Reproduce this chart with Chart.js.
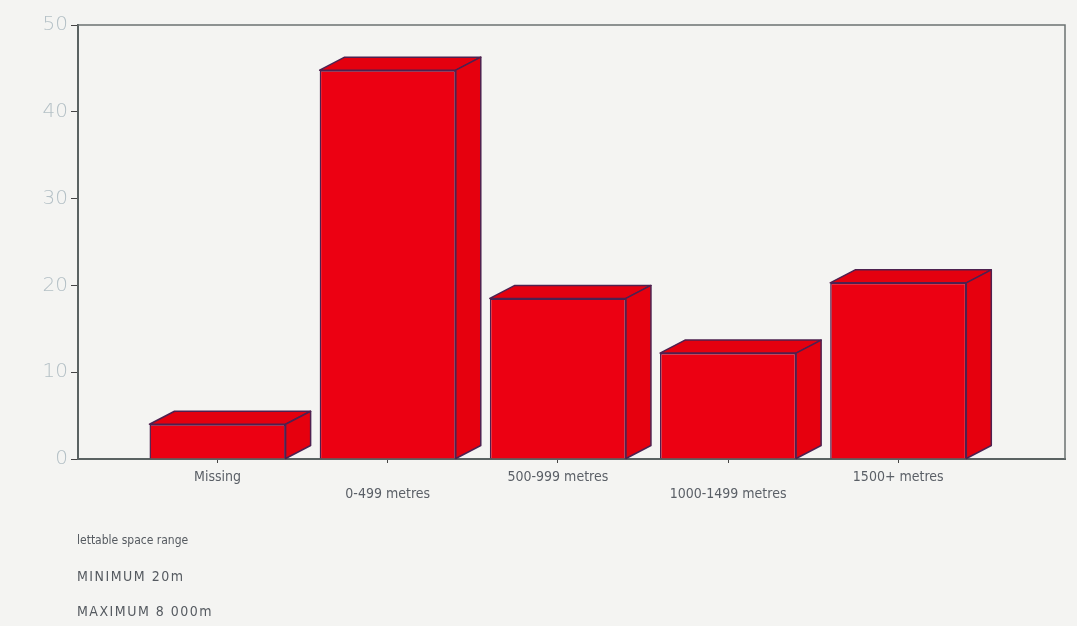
<!DOCTYPE html>
<html>
<head>
<meta charset="utf-8">
<script src="https://cdn.jsdelivr.net/npm/chart.js@4.4.0/dist/chart.umd.min.js"></script>
<style>
  html, body { margin: 0; padding: 0; background: #f4f4f2; }
  #wrap { position: relative; width: 1077px; height: 626px; }
  .note { position: absolute; left: 77px; color: #555a60; font-family: "Liberation Sans Narrow", "DejaVu Sans Condensed", Arial, sans-serif; }
</style>
</head>
<body>
<div id="wrap">
  <canvas id="bars" width="1077" height="626"></canvas>
  <div class="note" style="top:533px; font-size:12px;">lettable space range</div>
  <div class="note" style="top:568px; font-size:14px; letter-spacing:1.5px;">MINIMUM 20m</div>
  <div class="note" style="top:603px; font-size:14px; letter-spacing:1.5px;">MAXIMUM 8 000m</div>
</div>
<script>
const categories = ["Missing", "0-499 metres", "500-999 metres", "1000-1499 metres", "1500+ metres"];
const counts = [4, 44.8, 18.5, 12.2, 20.3];
const yTicks = [0, 10, 20, 30, 40, 50];

// depth of the fake 3d box
const DX = 25, DY = -13;

const box3d = {
  id: "box3d",
  afterDatasetsDraw(chart) {
    const ctx = chart.ctx;
    chart.getDatasetMeta(0).data.forEach((bar) => {
      const w = bar.width;
      const l = bar.x - w / 2, r = bar.x + w / 2, t = bar.y, b = bar.base;
      ctx.save();
      ctx.lineWidth = 1.5;
      ctx.strokeStyle = "#4e2150";
      ctx.lineJoin = "round";
      // top face
      ctx.beginPath();
      ctx.moveTo(l, t);
      ctx.lineTo(l + DX, t + DY);
      ctx.lineTo(r + DX, t + DY);
      ctx.lineTo(r, t);
      ctx.closePath();
      ctx.fillStyle = "#e4000f";
      ctx.fill();
      ctx.stroke();
      // side face
      ctx.beginPath();
      ctx.moveTo(r, t);
      ctx.lineTo(r + DX, t + DY);
      ctx.lineTo(r + DX, b + DY);
      ctx.lineTo(r, b);
      ctx.closePath();
      ctx.fillStyle = "#e6000e";
      ctx.fill();
      ctx.stroke();
      ctx.restore();
    });
  },
};

// top and right border of the plot box
const frame = {
  id: "frame",
  beforeDatasetsDraw(chart) {
    const { ctx, chartArea: a } = chart;
    ctx.save();
    ctx.strokeStyle = "#6b7272";
    ctx.lineWidth = 1.5;
    ctx.beginPath();
    ctx.moveTo(a.left, a.top);
    ctx.lineTo(a.right, a.top);
    ctx.lineTo(a.right, a.bottom);
    ctx.stroke();
    ctx.restore();
  },
};

new Chart(document.getElementById("bars"), {
  type: "bar",
  data: {
    datasets: [
      {
        data: counts.map((v, i) => ({ x: i, y: v })),
        backgroundColor: "#ec0012",
        borderColor: "#4e2150",
        borderWidth: 1.5,
        barPercentage: 0.8,
        categoryPercentage: 1,
      },
    ],
  },
  options: {
    responsive: false,
    animation: false,
    layout: { padding: { top: 25, right: 12, left: 0, bottom: 0 } },
    plugins: { legend: { display: false }, tooltip: { enabled: false } },
    scales: {
      x: {
        type: "linear",
        offset: false,
        min: -0.82,
        max: 4.98,
        afterFit: (s) => { s.height = 167; },
        grid: { offset: false, drawOnChartArea: false, drawTicks: true, tickLength: 4, color: "#444" },
        border: { color: "#5a6262", width: 2 },
        ticks: {
          stepSize: 1,
          includeBounds: false,
          autoSkip: false,
          maxRotation: 0,
          padding: 6,
          color: "#5a5f66",
          font: { family: "'Liberation Sans Narrow', 'DejaVu Sans Condensed', sans-serif", size: 14 },
          callback: (v) => {
            const lab = categories[v];
            if (lab === undefined) return "";
            return v % 2 === 1 ? ["", lab] : lab;
          },
        },
      },
      y: {
        min: 0,
        max: 50,
        afterFit: (s) => { s.width = 78; },
        afterBuildTicks: (s) => { s.ticks = yTicks.map((v) => ({ value: v })); },
        grid: { drawOnChartArea: false, drawTicks: true, tickLength: 7, color: "#444" },
        border: { color: "#5a6262", width: 2 },
        ticks: {
          padding: 3,
          color: "#b4c0c6",
          font: { family: "'DejaVu Sans', sans-serif", size: 20, weight: "300" },
        },
      },
    },
  },
  plugins: [frame, box3d],
});
</script>
</body>
</html>
